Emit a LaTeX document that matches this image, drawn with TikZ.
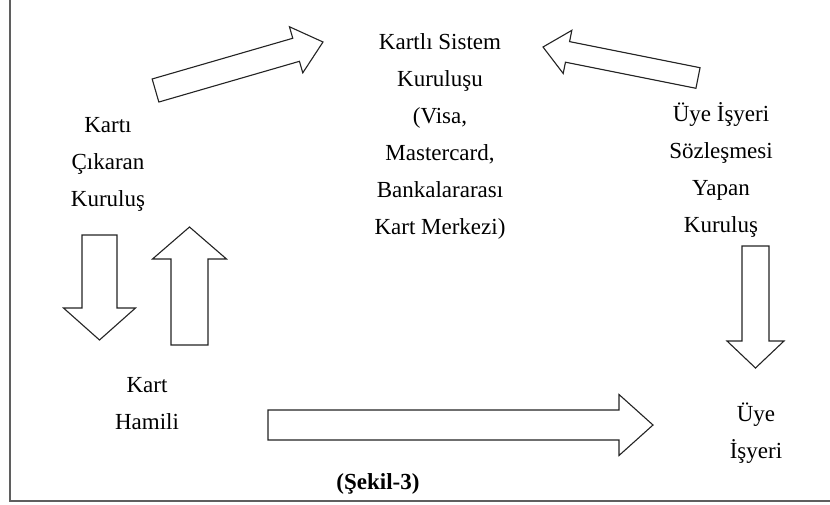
\documentclass[tikz,border=0pt]{standalone}
\usepackage{fontspec}
\setmainfont{Liberation Serif}
\usepackage{tikz}
\usetikzlibrary{calc}
\definecolor{FrameGray}{RGB}{95,95,95}
\definecolor{ArrowInk}{RGB}{35,35,35}

% block arrow: tail, tip, half shaft width, half head width, head length
\newcommand{\blockarrow}[5]{%
  \coordinate (hb) at ($(#2)!#5!(#1)$);
  \draw[blockarr]
    ($(#1)!#3!90:(#2)$) -- ($(hb)!#3!90:(#2)$) -- ($(hb)!#4!90:(#2)$)
    -- (#2) -- ($(hb)!#4!-90:(#2)$) -- ($(hb)!#3!-90:(#2)$)
    -- ($(#1)!#3!-90:(#2)$) -- cycle;
}

\begin{document}
\begin{tikzpicture}[
    x=1pt, y=-1pt,
    label/.style={align=center, inner sep=0pt, font=\rmfamily\fontsize{23}{37}\selectfont},
    blockarr/.style={draw=ArrowInk, fill=white, line width=1.1pt, line join=miter}
  ]
  \useasboundingbox (0,0) rectangle (830,504);

  % frame
  \draw[FrameGray, line width=2pt] (10,0) -- (10,501) -- (830,501);

  % actors
  \node[label] (sys) at (440,136) {Kartlı Sistem\\Kuruluşu\\(Visa,\\Mastercard,\\Bankalararası\\Kart Merkezi)};
  \node[label] (issuer) at (108,164) {Kartı\\Çıkaran\\Kuruluş};
  \node[label] (acquirer) at (721,170) {Üye İşyeri\\Sözleşmesi\\Yapan\\Kuruluş};
  \node[label] (holder) at (147,404) {Kart\\Hamili};
  \node[label] (merchant) at (756,433) {Üye\\İşyeri};
  \node[label, font=\rmfamily\bfseries\fontsize{23}{37}\selectfont] (caption) at (378,484) {(Şekil-3)};

  % arrow ends
  \coordinate (issSysT) at (155.5,90.5);
  \coordinate (issSysH) at (323,42);
  \coordinate (acqSysT) at (698,78);
  \coordinate (acqSysH) at (543,47);
  \coordinate (issHoldT) at (99.5,235);
  \coordinate (issHoldH) at (99.5,340);
  \coordinate (holdIssT) at (189.5,345);
  \coordinate (holdIssH) at (189.5,227);
  \coordinate (holdMerT) at (268,425);
  \coordinate (holdMerH) at (653,425);
  \coordinate (acqMerT) at (755.5,246);
  \coordinate (acqMerH) at (755.5,368);

  \blockarrow{issSysT}{issSysH}{12pt}{24pt}{28pt}
  \blockarrow{acqSysT}{acqSysH}{10.5pt}{22pt}{25pt}
  \blockarrow{issHoldT}{issHoldH}{17.5pt}{36pt}{32pt}
  \blockarrow{holdIssT}{holdIssH}{18.5pt}{37pt}{32pt}
  \blockarrow{holdMerT}{holdMerH}{15pt}{30.5pt}{34pt}
  \blockarrow{acqMerT}{acqMerH}{13.5pt}{28.5pt}{27pt}
\end{tikzpicture}
\end{document}
